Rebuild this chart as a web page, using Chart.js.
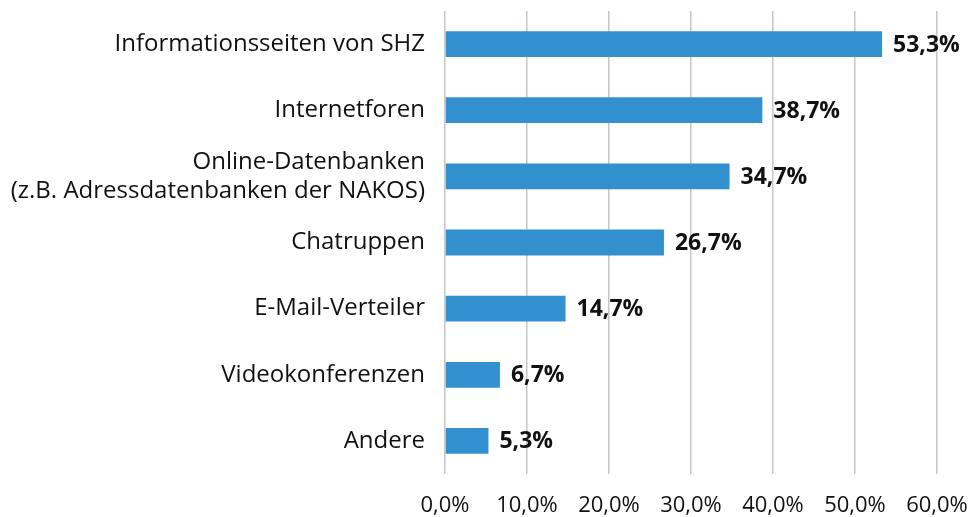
<!DOCTYPE html>
<html>
<head>
<meta charset="utf-8">
<script src="https://cdn.jsdelivr.net/npm/chart.js@4/dist/chart.umd.min.js"></script>
<style>
  html, body { margin: 0; padding: 0; background: #fff; }
  #wrap { width: 972px; height: 517px; }
</style>
</head>
<body>
<div id="wrap"><canvas id="chart"></canvas></div>
<script>
const categories = [
  'Informationsseiten von SHZ',
  'Internetforen',
  ['Online-Datenbanken', '(z.B. Adressdatenbanken der NAKOS)'],
  'Chatruppen',
  'E-Mail-Verteiler',
  'Videokonferenzen',
  'Andere'
];
const shares = [53.3, 38.7, 34.7, 26.7, 14.7, 6.7, 5.3];
const xTickLabels = ['0,0%', '10,0%', '20,0%', '30,0%', '40,0%', '50,0%', '60,0%'];

const fmt = (v) => v.toFixed(1).replace('.', ',') + '%';

const valueLabels = {
  id: 'valueLabels',
  afterDatasetsDraw(chart) {
    const ctx = chart.ctx;
    const meta = chart.getDatasetMeta(0);
    ctx.save();
    ctx.font = 'bold 23px "Open Sans"';
    ctx.fillStyle = '#111';
    ctx.textAlign = 'left';
    ctx.textBaseline = 'middle';
    meta.data.forEach((bar, i) => {
      ctx.fillText(fmt(shares[i]), bar.x + 11, bar.y + 1);
    });
    ctx.restore();
  }
};

new Chart(document.getElementById('chart'), {
  type: 'bar',
  data: {
    labels: categories,
    datasets: [{
      data: shares,
      backgroundColor: '#3390cf',
      borderWidth: 0,
      categoryPercentage: 1,
      barPercentage: 0.39
    }]
  },
  options: {
    indexAxis: 'y',
    responsive: true,
    maintainAspectRatio: false,
    animation: false,
    layout: { padding: { top: 11, right: 35, left: 0, bottom: 0 } },
    plugins: {
      legend: { display: false },
      tooltip: { enabled: false }
    },
    scales: {
      x: {
        min: 0,
        max: 60,
        ticks: {
          stepSize: 10,
          color: '#111',
          font: { family: 'Open Sans', size: 22 },
          padding: 19,
          maxRotation: 0,
          callback: (v, i) => xTickLabels[i]
        },
        grid: { color: '#c6c6c6', lineWidth: 1.5, drawTicks: false },
        border: { display: false },
        afterFit(scale) {
          scale.height = 43;
          scale.paddingLeft = 0;
          scale.paddingRight = 0;
        }
      },
      y: {
        ticks: {
          color: '#111',
          font: { family: 'Open Sans', size: 24 },
          padding: 20
        },
        grid: { display: false, drawTicks: false },
        border: { display: false },
        afterFit(scale) {
          scale.width = 445;
          scale.paddingTop = 0;
          scale.paddingBottom = 0;
        }
      }
    }
  },
  plugins: [valueLabels]
});
</script>
</body>
</html>
